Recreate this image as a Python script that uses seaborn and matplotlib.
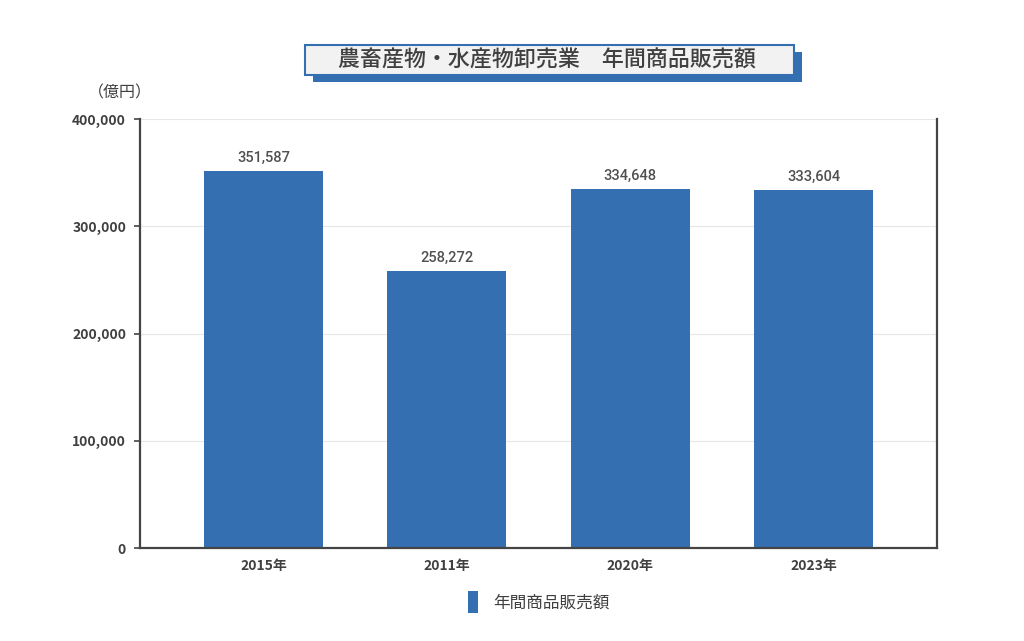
import matplotlib
matplotlib.use('Agg')
import matplotlib.pyplot as plt
from matplotlib.patches import Rectangle
import seaborn as sns
import pandas as pd

nendo = ['2015年', '2011年', '2020年', '2023年']
uriage = [351587, 258272, 334648, 333604]
y_ticks = [0, 100000, 200000, 300000, 400000]

sns.set_theme(style='white')
plt.rcParams['font.family'] = ['Noto Sans CJK JP', 'DejaVu Sans']

ao = '#346fb1'
moji = '#404040'

df = pd.DataFrame({'nendo': nendo, 'uriage': uriage})

fig = plt.figure(figsize=(10.24, 6.41), dpi=100)
ax = fig.add_axes([140 / 1024, 1 - 548 / 641, 797 / 1024, 429 / 641])

sns.barplot(data=df, x='nendo', y='uriage', color=ao, saturation=1,
            width=0.648, ax=ax, label='年間商品販売額')
for p in ax.patches:
    p.set_edgecolor('none')

for i, v in enumerate(uriage):
    ax.text(i, v + 6000, f'{v:,}', ha='center', va='bottom', fontsize=10.5,
            fontfamily=['Roboto', 'DejaVu Sans'], fontweight='medium', color='#505050')

ax.set_xlim(-0.673, 3.673)
ax.set_ylim(0, 400000)
ax.set_yticks(y_ticks)
ax.set_yticklabels([f'{t:,}' for t in y_ticks], fontsize=10, fontweight='bold', color=moji)
ax.set_xticks(range(len(nendo)))
ax.set_xticklabels(nendo, fontsize=10, fontweight='bold', color=moji)
ax.set_xlabel('')
ax.set_ylabel('')
ax.yaxis.grid(True, color='#e6e6e6', linewidth=0.8)
ax.set_axisbelow(True)
ax.tick_params(axis='y', left=True, length=4, width=1.2, color='#444444', pad=6)
ax.tick_params(axis='x', bottom=False, pad=2)
for s in ['left', 'bottom', 'right']:
    ax.spines[s].set_visible(True)
    ax.spines[s].set_color('#444444')
    ax.spines[s].set_linewidth(1.6)
ax.spines['top'].set_visible(False)

fig.text(120 / 1024, 1 - 93 / 641, '（億円）', ha='center', va='center', fontsize=11.5, color=moji)

# タイトルの箱
fig.patches.append(Rectangle((313 / 1024, 1 - 82 / 641), 489 / 1024, 30 / 641,
                             transform=fig.transFigure, facecolor=ao, edgecolor='none'))
fig.patches.append(Rectangle((305 / 1024, 1 - 75 / 641), 489 / 1024, 30 / 641,
                             transform=fig.transFigure, facecolor='#f2f2f2', edgecolor=ao, linewidth=1.5))
fig.text(547 / 1024, 1 - 60 / 641, '農畜産物・水産物卸売業　年間商品販売額', ha='center', va='center',
         fontsize=15.8, fontweight='medium', color=moji)

ax.legend(loc='upper center', bbox_to_anchor=(0.5, -0.065), frameon=False, fontsize=12,
          handlelength=0.6, handleheight=1.7, handletextpad=0.9, labelcolor=moji)

fig.savefig('out.png', dpi=100)
